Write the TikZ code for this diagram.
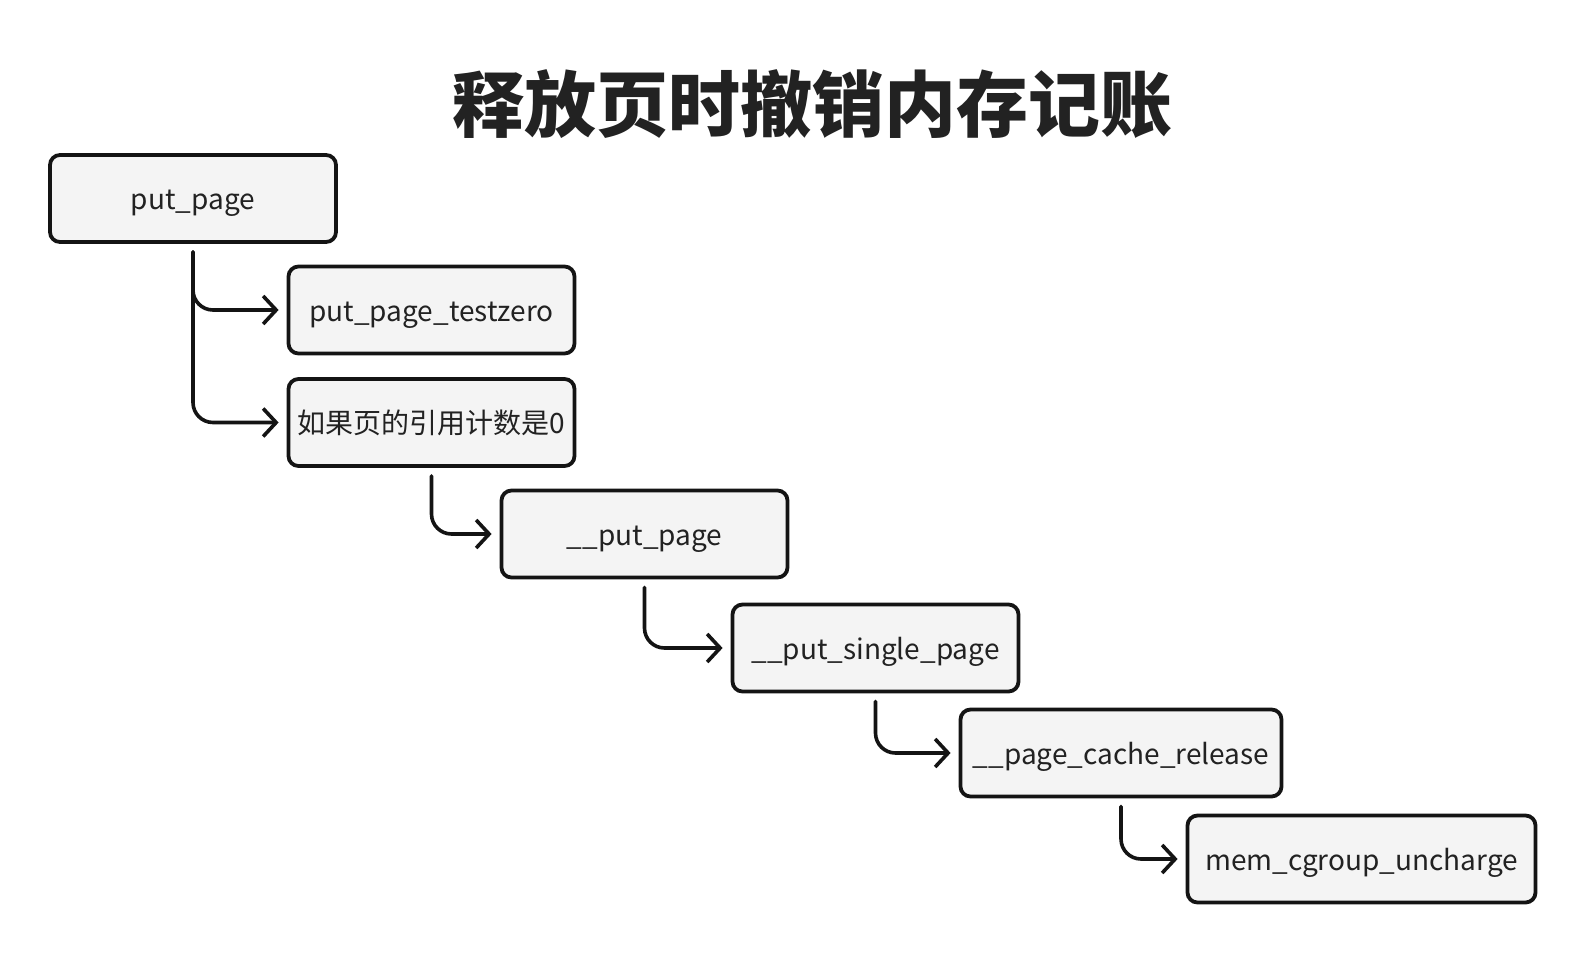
\documentclass[tikz,border=0pt]{standalone}
\usepackage{fontspec}
\setmainfont{Noto Sans CJK SC}
\usetikzlibrary{arrows.meta}
\definecolor{boxfill}{HTML}{F4F4F4}
\definecolor{ink}{HTML}{141414}
\definecolor{txt}{HTML}{222222}
\tikzset{
  fn/.style={draw=ink, fill=boxfill, line width=3.8pt, rounded corners=10pt,
    inner sep=0pt, minimum height=87pt, text height=24pt, text depth=2pt,
    text=txt, font=\fontsize{28}{32}\selectfont},
  call/.style={draw=ink, line width=3.6pt, rounded corners=20pt, line cap=round,
    -{Straight Barb[length=13pt,width=28pt,line width=3.6pt]}},
}
\begin{document}
\begin{tikzpicture}[x=1pt,y=-1pt]
\useasboundingbox (0,0) rectangle (1588,954);
\fill[white] (0,0) rectangle (1588,954);

\node[text=txt, font=\fontsize{72}{80}\selectfont\bfseries] (title) at (812,104) {释放页时撤销内存记账};

\node[fn, minimum width=286pt] (pp)   at (193,198.5)   {put\_page};
\node[fn, minimum width=286pt] (tz)   at (431.5,310)   {put\_page\_testzero};
\node[fn, minimum width=286pt] (rc)   at (431.5,422.5) {如果页的引用计数是0};
\node[fn, minimum width=286pt] (upp)  at (644.5,534)   {\_\_put\_page};
\node[fn, minimum width=286pt] (usp)  at (875.5,648)   {\_\_put\_single\_page};
\node[fn, minimum width=321pt] (pcr)  at (1121,753)    {\_\_page\_cache\_release};
\node[fn, minimum width=348pt] (mcu)  at (1361.5,859)  {mem\_cgroup\_uncharge};

\draw[call] ([yshift=-8pt]pp.south)  |- ([xshift=-8pt]tz.west);
\draw[call] ([yshift=-8pt]pp.south)  |- ([xshift=-8pt]rc.west);
\draw[call] ([yshift=-8pt]rc.south)  |- ([xshift=-8pt]upp.west);
\draw[call] ([yshift=-8pt]upp.south) |- ([xshift=-8pt]usp.west);
\draw[call] ([yshift=-8pt]usp.south) |- ([xshift=-8pt]pcr.west);
\draw[call] ([yshift=-8pt]pcr.south) |- ([xshift=-8pt]mcu.west);
\end{tikzpicture}
\end{document}
